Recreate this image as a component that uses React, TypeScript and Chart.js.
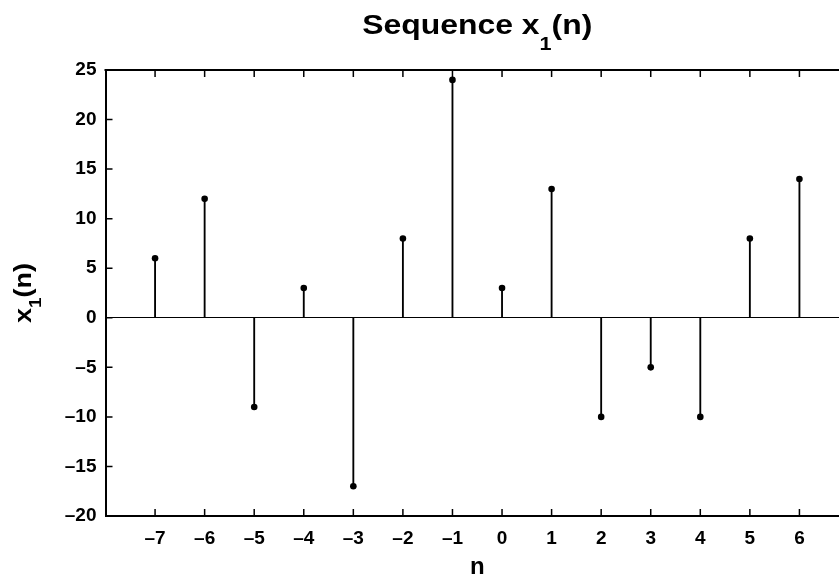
import { useEffect, useRef } from "react";
import { Chart, registerables } from "chart.js";

Chart.register(...registerables);

// ---- data ----
const nValues = [-7, -6, -5, -4, -3, -2, -1, 0, 1, 2, 3, 4, 5, 6];
const x1Values = [6, 12, -9, 3, -17, 8, 24, 3, 13, -10, -5, -10, 8, 14];
const xTickValues = [-7, -6, -5, -4, -3, -2, -1, 0, 1, 2, 3, 4, 5, 6];
const yTickValues = [-20, -15, -10, -5, 0, 5, 10, 15, 20, 25];
const xLimits = [-8, 7];
const yLimits = [-20, 25];
const titleParts = ["Sequence x", "1", "(n)"];
const yLabelParts = ["x", "1", "(n)"];
const xLabelText = "n";

const FONT = '"Liberation Sans", Arial, Helvetica, sans-serif';

function fmt(v: number): string {
  return v < 0 ? "\u2013" + Math.abs(v) : String(v);
}

function drawRich(
  ctx: CanvasRenderingContext2D,
  parts: string[],
  mainSize: number,
  subSize: number,
  subDrop: number,
  targetWidth: number
) {
  const mainFont = `bold ${mainSize}px ${FONT}`;
  const subFont = `bold ${subSize}px ${FONT}`;
  ctx.font = mainFont;
  const w0 = ctx.measureText(parts[0]).width;
  const w2 = ctx.measureText(parts[2]).width;
  ctx.font = subFont;
  const w1 = ctx.measureText(parts[1]).width;
  const total = w0 + w1 + w2;
  const sx = targetWidth / total;
  ctx.save();
  ctx.scale(sx, 1);
  let x = -total / 2;
  ctx.textAlign = "left";
  ctx.textBaseline = "alphabetic";
  ctx.font = mainFont;
  ctx.fillText(parts[0], x, 0);
  x += w0;
  ctx.font = subFont;
  ctx.fillText(parts[1], x, subDrop);
  x += w1;
  ctx.font = mainFont;
  ctx.fillText(parts[2], x, 0);
  ctx.restore();
}

const decorPlugin = {
  id: "decor",
  afterDraw(chart: any) {
    const ctx: CanvasRenderingContext2D = chart.ctx;
    const a = chart.chartArea;
    const xs = chart.scales.x;
    const ys = chart.scales.y;
    ctx.save();
    ctx.strokeStyle = "#000";
    ctx.fillStyle = "#000";
    // top frame line
    ctx.lineWidth = 2;
    ctx.beginPath();
    ctx.moveTo(a.left - 1, a.top);
    ctx.lineTo(a.right + 1, a.top);
    ctx.stroke();
    // inward ticks
    const tl = 7;
    ctx.lineWidth = 1.5;
    ctx.beginPath();
    for (const v of xTickValues) {
      const px = xs.getPixelForValue(v);
      ctx.moveTo(px, a.bottom);
      ctx.lineTo(px, a.bottom - tl);
      ctx.moveTo(px, a.top);
      ctx.lineTo(px, a.top + tl);
    }
    for (const v of yTickValues) {
      const py = ys.getPixelForValue(v);
      ctx.moveTo(a.left, py);
      ctx.lineTo(a.left + tl, py);
      ctx.moveTo(a.right, py);
      ctx.lineTo(a.right - tl, py);
    }
    ctx.stroke();

    const cx = (a.left + a.right) / 2;
    // title
    ctx.save();
    ctx.translate(cx, 34);
    drawRich(ctx, titleParts, 28, 19, 16, 230);
    ctx.restore();
    // x label
    ctx.font = `bold 24px ${FONT}`;
    ctx.textAlign = "center";
    ctx.textBaseline = "alphabetic";
    ctx.fillText(xLabelText, cx, 574);
    // y label
    ctx.save();
    ctx.translate(31, (a.top + a.bottom) / 2);
    ctx.rotate(-Math.PI / 2);
    drawRich(ctx, yLabelParts, 24, 17, 10, 60);
    ctx.restore();
    ctx.restore();
  },
};

export default function App() {
  const ref = useRef<HTMLCanvasElement | null>(null);

  useEffect(() => {
    if (!ref.current) return;
    const pts = nValues.map((n, i) => ({ x: n, y: x1Values[i] }));
    const tickFont = { family: FONT, size: 19, weight: "bold" as const };
    const chart = new Chart(ref.current, {
      type: "scatter",
      data: {
        datasets: [
          {
            type: "bar" as any,
            data: pts,
            backgroundColor: "#000",
            barThickness: 1.2,
            order: 2,
          } as any,
          {
            type: "scatter",
            data: pts,
            pointRadius: 3.3,
            pointBackgroundColor: "#000",
            pointBorderWidth: 0,
            order: 1,
          },
        ],
      },
      options: {
        animation: false,
        responsive: false,
        devicePixelRatio: 1,
        layout: { padding: { left: 0, top: 70, right: 21, bottom: 0 } },
        plugins: {
          legend: { display: false },
          tooltip: { enabled: false },
          title: { display: false },
        },
        scales: {
          x: {
            type: "linear",
            offset: false,
            min: xLimits[0],
            max: xLimits[1],
            afterFit: (s: any) => {
              s.height = 62;
            },
            afterBuildTicks: (s: any) => {
              s.ticks = xTickValues.map((v) => ({ value: v }));
            },
            ticks: {
              autoSkip: false,
              maxRotation: 0,
              padding: 11,
              color: "#000",
              font: tickFont,
              callback: (v: any) => fmt(Number(v)),
            },
            grid: { display: false, drawTicks: false, offset: false },
            border: { display: true, color: "#000", width: 2 },
          },
          y: {
            type: "linear",
            min: yLimits[0],
            max: yLimits[1],
            afterFit: (s: any) => {
              s.width = 105.5;
            },
            afterBuildTicks: (s: any) => {
              s.ticks = yTickValues.map((v) => ({ value: v }));
            },
            ticks: {
              autoSkip: false,
              padding: 9,
              color: "#000",
              font: tickFont,
              callback: (v: any) => fmt(Number(v)),
            },
            grid: {
              drawTicks: false,
              lineWidth: 1,
              color: (c: any) =>
                c.tick && c.tick.value === 0 ? "#000" : "rgba(0,0,0,0)",
            },
            border: { display: true, color: "#000", width: 2 },
          },
        },
      },
      plugins: [decorPlugin],
    });
    return () => chart.destroy();
  }, []);

  return (
    <div
      style={{
        position: "fixed",
        left: 0,
        top: 0,
        width: 839,
        height: 578,
        overflow: "hidden",
        background: "#fff",
      }}
    >
      <canvas ref={ref} width={870} height={578} style={{ display: "block" }} />
    </div>
  );
}
